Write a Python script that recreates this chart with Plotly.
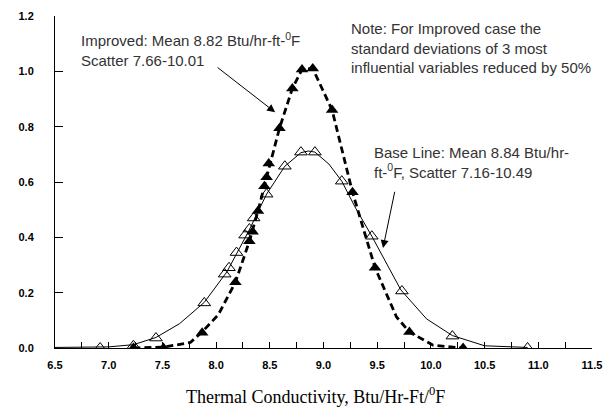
import plotly.graph_objects as go

# Base line: curve vertices and sample markers (open triangles)
base_line_x = [6.5, 7.0, 7.23, 7.44, 7.66, 7.89, 8.1, 8.3, 8.47, 8.64, 8.79, 8.86, 8.92, 9.05, 9.17, 9.3, 9.45, 9.72, 9.96, 10.2, 10.5, 10.9]
base_line_y = [0.002, 0.004, 0.012, 0.038, 0.088, 0.165, 0.275, 0.42, 0.556, 0.657, 0.706, 0.712, 0.708, 0.665, 0.603, 0.505, 0.404, 0.21, 0.105, 0.045, 0.008, 0.002]
base_pts_x = [6.92, 7.23, 7.44, 7.89, 8.08, 8.12, 8.19, 8.27, 8.31, 8.35, 8.47, 8.64, 8.79, 8.92, 9.17, 9.45, 9.73, 10.2, 10.9]
base_pts_y = [0.0, 0.008, 0.036, 0.163, 0.267, 0.29, 0.345, 0.408, 0.43, 0.47, 0.556, 0.657, 0.708, 0.708, 0.603, 0.404, 0.206, 0.043, 0.0]

# Improved: curve vertices and sample markers (filled triangles)
imp_line_x = [7.23, 7.51, 7.76, 7.87, 8.02, 8.18, 8.31, 8.39, 8.47, 8.59, 8.71, 8.8, 8.9, 9.08, 9.27, 9.48, 9.68, 9.8, 10.02, 10.3]
imp_line_y = [0.0, 0.003, 0.02, 0.058, 0.12, 0.238, 0.386, 0.495, 0.617, 0.794, 0.938, 1.007, 1.01, 0.86, 0.563, 0.29, 0.112, 0.058, 0.01, 0.0]
imp_pts_x = [7.23, 7.51, 7.87, 8.18, 8.31, 8.34, 8.39, 8.45, 8.47, 8.49, 8.59, 8.71, 8.8, 8.9, 9.08, 9.27, 9.48, 9.8, 10.3]
imp_pts_y = [0.0, 0.0, 0.055, 0.238, 0.386, 0.42, 0.495, 0.585, 0.617, 0.667, 0.794, 0.938, 1.007, 1.01, 0.86, 0.563, 0.29, 0.058, 0.0]

x_ticks = [6.5, 7.0, 7.5, 8.0, 8.5, 9.0, 9.5, 10.0, 10.5, 11.0, 11.5]
y_ticks = [0.0, 0.2, 0.4, 0.6, 0.8, 1.0, 1.2]

fig = go.Figure()
fig.add_trace(go.Scatter(x=base_line_x, y=base_line_y, mode="lines",
                         line=dict(color="black", width=1), hoverinfo="skip"))
fig.add_trace(go.Scatter(x=imp_line_x, y=imp_line_y, mode="lines",
                         line=dict(color="black", width=2.8, dash="7px,4px"), hoverinfo="skip"))
fig.add_trace(go.Scatter(x=base_pts_x, y=base_pts_y, mode="markers",
                         marker=dict(symbol="triangle-up-open", size=11, color="black", line=dict(width=1, color="black"))))
fig.add_trace(go.Scatter(x=imp_pts_x, y=imp_pts_y, mode="markers",
                         marker=dict(symbol="triangle-up", size=11, color="black")))

txt_font = dict(family="Liberation Sans", size=15, color="#333333")

fig.add_annotation(x=6.72, y=1.078, xref="x", yref="y", xanchor="left", yanchor="middle", align="left",
                   text="Improved: Mean 8.82 Btu/hr-ft-<sup>0</sup>F<br>Scatter 7.66-10.01",
                   showarrow=False, font=txt_font)
fig.add_annotation(x=9.235, y=1.085, xref="x", yref="y", xanchor="left", yanchor="middle", align="left",
                   text="Note: For Improved case the<br>standard deviations of 3 most<br>influential variables reduced by 50%",
                   showarrow=False, font=txt_font)
fig.add_annotation(x=9.45, y=0.67, xref="x", yref="y", xanchor="left", yanchor="middle", align="left",
                   text="Base Line: Mean 8.84 Btu/hr-<br>ft-<sup>0</sup>F, Scatter 7.16-10.49",
                   showarrow=False, font=txt_font)

# x-axis title as annotation for exact placement
fig.add_annotation(x=8.93, y=-0.142, xref="x", yref="paper", xanchor="center", yanchor="middle",
                   text="Thermal Conductivity, Btu/Hr-Ft/<sup>0</sup>F", showarrow=False,
                   font=dict(family="Liberation Serif", size=18, color="black"))

# arrows
fig.add_annotation(x=8.55, y=0.852, ax=8.0, ay=1.018, xref="x", yref="y", axref="x", ayref="y",
                   text="", showarrow=True, arrowhead=2, arrowsize=1.6, arrowwidth=1, arrowcolor="black")
fig.add_annotation(x=9.554, y=0.361, ax=9.666, ay=0.57, xref="x", yref="y", axref="x", ayref="y",
                   text="", showarrow=True, arrowhead=2, arrowsize=1.6, arrowwidth=1, arrowcolor="black")

# page body has an 8px margin, so the figure is sized/offset to compensate
fig.update_layout(
    width=605, height=402,
    margin=dict(l=47, r=21, t=8, b=62),
    paper_bgcolor="white", plot_bgcolor="white",
    showlegend=False,
    xaxis=dict(range=[6.5, 11.5], tickvals=x_ticks, ticktext=[f"{v:.1f}" for v in x_ticks],
               automargin=False,
               showgrid=False, zeroline=False, showline=True, linecolor="black", linewidth=1,
               ticks="inside", ticklen=6, tickcolor="black", ticklabelstandoff=7,
               minor=dict(dtick=0.25, tick0=6.5, ticks="inside", ticklen=6, tickcolor="black", showgrid=False),
               tickfont=dict(family="Liberation Sans", size=11, color="black", weight="bold")),
    yaxis=dict(range=[0, 1.2], tickvals=y_ticks, ticktext=[f"{v:.1f}" for v in y_ticks],
               automargin=False,
               showgrid=False, zeroline=False, showline=True, linecolor="black", linewidth=1,
               ticks="inside", ticklen=8, tickcolor="black", ticklabelstandoff=18,
               tickfont=dict(family="Liberation Sans", size=11, color="black", weight="bold")),
)

fig.write_html("out.html")
